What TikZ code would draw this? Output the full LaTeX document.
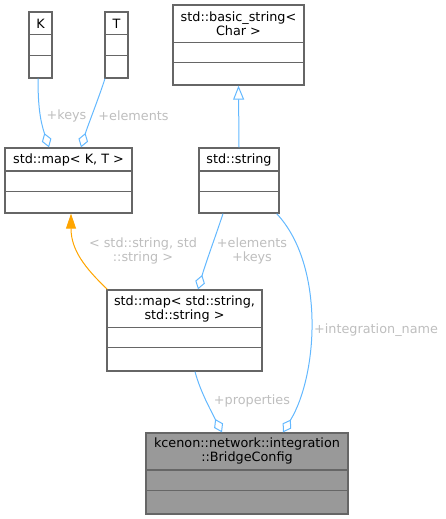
\documentclass[tikz,border=0pt]{standalone}
\usepackage{fontspec}
\setmainfont{DejaVu Sans}
\usetikzlibrary{arrows.meta}
\definecolor{edgeblue}{HTML}{63B8FF}
\definecolor{lblgrey}{HTML}{BEBEBE}
\definecolor{boxline}{HTML}{666666}
\definecolor{curfill}{HTML}{999999}
\definecolor{inhorange}{HTML}{FFA500}
\newcommand{\classseps}[3]{%
  \draw[sepline] ([yshift=-#2pt]#1.north west) -- ([yshift=-#2pt]#1.north east);
  \draw[sepline] ([yshift=-#3pt]#1.north west) -- ([yshift=-#3pt]#1.north east);}
\begin{document}
\begin{tikzpicture}[x=1pt,y=-1pt,
  cls/.style={draw=boxline, fill=white, line width=1.3pt, inner sep=0pt},
  cur/.style={cls, fill=curfill},
  sepline/.style={draw=boxline, line width=1.3pt},
  ttl/.style={inner sep=0pt, align=center, font=\fontsize{12.8}{14}\selectfont, text=black},
  lbl/.style={inner sep=0pt, align=center, font=\fontsize{12.8}{14}\selectfont, text=lblgrey},
  assoc/.style={draw=edgeblue, line width=1pt, -{Diamond[open, length=15pt, width=10pt]}},
  inh/.style={draw=edgeblue, line width=1pt, -{Triangle[open, length=14pt, width=11pt]}},
  tmpl/.style={draw=inhorange, line width=1pt, -{Triangle[length=15pt, width=10pt, fill=inhorange]}}
]
\useasboundingbox (0,0) rectangle (446,519);

% K
\node[cls, minimum width=23pt, minimum height=66pt] (K) at (40.5,45) {};
\node[ttl] (K-t) at ([yshift=-12pt]K.north) {K};
\classseps{K}{23}{44}
% T
\node[cls, minimum width=23pt, minimum height=66pt] (T) at (116.5,45) {};
\node[ttl] (T-t) at ([yshift=-12pt]T.north) {T};
\classseps{T}{23}{44}
% std::map<K,T>
\node[cls, minimum width=127pt, minimum height=65pt] (mapKT) at (68.5,180.5) {};
\node[ttl] (mapKT-t) at ([yshift=-13pt]mapKT.north) {std::map< K, T >};
\classseps{mapKT}{23.5}{44}
% basic_string
\node[cls, minimum width=131pt, minimum height=80pt] (bstr) at (238.5,45) {};
\node[ttl] (bstr-t) at ([yshift=-19pt]bstr.north) {std::basic\_string<\\Char >};
\classseps{bstr}{38}{58}
% std::string
\node[cls, minimum width=80pt, minimum height=65pt] (str) at (239,180.5) {};
\node[ttl] (str-t) at ([yshift=-13pt]str.north) {std::string};
\classseps{str}{23.5}{44}
% std::map<std::string,std::string>
\node[cls, minimum width=155pt, minimum height=81pt] (mapSS) at (184.5,330.5) {};
\node[ttl] (mapSS-t) at ([yshift=-20pt]mapSS.north) {std::map< std::string,\\std::string >};
\classseps{mapSS}{38}{58}
% BridgeConfig
\node[cur, minimum width=202pt, minimum height=81pt] (bridge) at (247,473.5) {};
\node[ttl] (bridge-t) at ([yshift=-19pt]bridge.north) {kcenon::network::integration\\::BridgeConfig};
\classseps{bridge}{37.5}{58}

% edges
\draw[assoc] ([xshift=-2.5pt]K.south) .. controls (38,105) and (40,120) .. ([xshift=-19.5pt]mapKT.north);
\draw[assoc] ([xshift=-11.5pt]T.south) .. controls (98,100) and (88,125) .. ([xshift=12.5pt]mapKT.north);
\draw[inh] (str.north) -- (bstr.south);
\draw[tmpl] ([xshift=1pt]mapSS.north west) .. controls (85,268) and (71,250) .. ([xshift=2.5pt]mapKT.south);
\draw[assoc] ([xshift=-16pt]str.south) .. controls (216,235) and (206,262) .. ([xshift=13.5pt]mapSS.north);
\draw[assoc] ([xshift=-3pt]str.south east) .. controls (325,265) and (318,375) .. ([xshift=36pt]bridge.north);
\draw[assoc] ([xshift=10.5pt]mapSS.south) .. controls (200,390) and (208,405) .. ([xshift=-25pt]bridge.north);

% labels
\node[lbl] (l-keys) at (66.5,116) {+keys};
\node[lbl] (l-elem) at (133.5,116) {+elements};
\node[lbl] (l-tmpl) at (143,250.5) {< std::string, std\\::string >};
\node[lbl] (l-ek) at (252,250.5) {+elements\\+keys};
\node[lbl, anchor=west] (l-int) at (314,330) {+integration\_name};
\node[lbl] (l-prop) at (252,401) {+properties};
\end{tikzpicture}
\end{document}
